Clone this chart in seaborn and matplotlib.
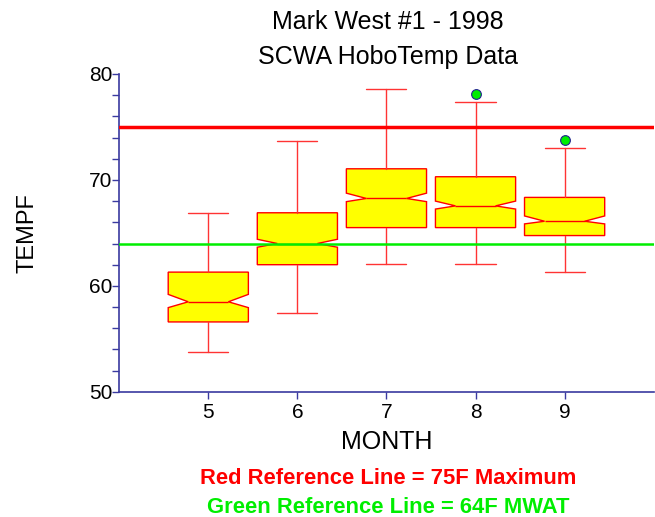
import matplotlib
matplotlib.use("Agg")
import matplotlib.pyplot as plt
import seaborn as sns
import numpy as np

# Monthly temperature summaries
months = [5, 6, 7, 8, 9]
whisker_low = [53.75, 57.4, 62.05, 62.05, 61.3]
q1 = [56.6, 62.0, 65.5, 65.5, 64.75]
median = [58.5, 64.0, 68.25, 67.55, 66.1]
q3 = [61.3, 66.9, 71.05, 70.3, 68.35]
whisker_high = [66.9, 73.7, 78.55, 77.35, 73.0]
notch_low = [57.95, 63.65, 67.95, 67.25, 65.85]
notch_high = [59.2, 64.4, 68.75, 68.0, 66.6]
outliers = [[], [], [], [78.1], [73.75]]

red_ref = 75
green_ref = 64

sns.set_style("ticks")
plt.rcParams['font.family'] = ['Liberation Sans', 'DejaVu Sans']
plt.rcParams['text.color'] = 'black'
plt.rcParams['axes.labelcolor'] = 'black'
plt.rcParams['xtick.labelcolor'] = 'black'
plt.rcParams['ytick.labelcolor'] = 'black'

fig = plt.figure(figsize=(6.55, 5.17), dpi=100)
ax = fig.add_axes([0.182, 0.242, 0.816, 0.615])

stats = []
for i, m in enumerate(months):
    stats.append(dict(med=median[i], q1=q1[i], q3=q3[i],
                      whislo=whisker_low[i], whishi=whisker_high[i],
                      cilo=notch_low[i], cihi=notch_high[i],
                      fliers=outliers[i], label=str(m)))

ax.bxp(stats, positions=months, widths=0.9, shownotches=True, patch_artist=True,
       boxprops=dict(facecolor='#ffff00', edgecolor='#ff0000', linewidth=1.0),
       medianprops=dict(color='#ff0000', linewidth=1.0),
       whiskerprops=dict(color='#ff3333', linewidth=1.0),
       capprops=dict(color='#ff3333', linewidth=1.0),
       flierprops=dict(marker='o', markerfacecolor='#00ee00',
                       markeredgecolor='#202090', markersize=7,
                       markeredgewidth=0.8))

ax.axhline(red_ref, color='#ff0000', linewidth=2.5, zorder=5)
ax.axhline(green_ref, color='#00ee00', linewidth=1.8, zorder=5)

ax.set_xlim(4, 10)
ax.set_ylim(50, 80)
ax.set_xticks(months)
ax.set_xticklabels([str(m) for m in months])
ax.set_yticks([50, 60, 70, 80])
ax.set_yticks(np.arange(50, 81, 2), minor=True)

spine_col = '#3a3aa0'
for side in ['top', 'right']:
    ax.spines[side].set_visible(False)
for side in ['left', 'bottom']:
    ax.spines[side].set_color(spine_col)
    ax.spines[side].set_linewidth(1.2)
ax.tick_params(axis='y', which='both', length=5, width=1, color=spine_col,
               labelsize=15, pad=0)
ax.tick_params(axis='x', which='major', length=5, width=1, color=spine_col,
               labelsize=15, pad=3)
ax.tick_params(axis='x', which='minor', length=0)

ax.set_xlabel('MONTH', fontsize=18, labelpad=6)
ax.set_ylabel('TEMPF', fontsize=17, labelpad=36)

fig.text(0.592, 0.957, 'Mark West #1 - 1998', ha='center', va='center', fontsize=18)
fig.text(0.592, 0.890, 'SCWA HoboTemp Data', ha='center', va='center', fontsize=18)
fig.text(0.593, 0.075, 'Red Reference Line = 75F Maximum', ha='center', va='center',
         fontsize=15.8, fontweight='bold', color='#ff0000')
fig.text(0.593, 0.019, 'Green Reference Line = 64F MWAT', ha='center', va='center',
         fontsize=15.8, fontweight='bold', color='#00ee00')

fig.savefig('out.png', dpi=100)
